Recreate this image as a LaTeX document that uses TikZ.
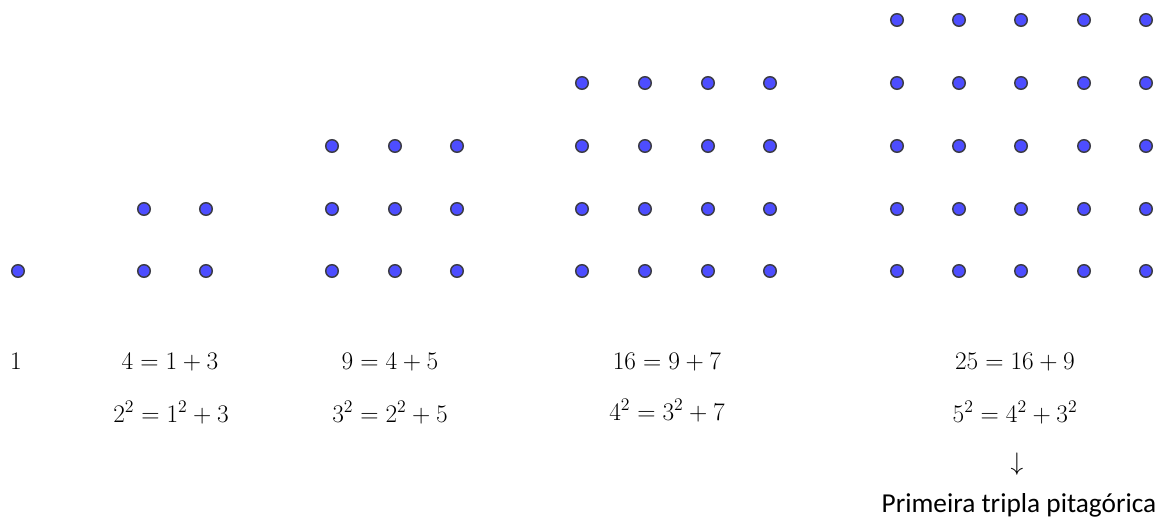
\RequirePackage{fix-cm}
\documentclass[tikz,border=0pt]{standalone}
\usepackage{fontspec}
\newfontfamily\calibri{Carlito}
\definecolor{dotblue}{RGB}{77,77,255}
\definecolor{dotedge}{RGB}{60,60,70}
\tikzset{
  dotnode/.style={circle, fill=dotblue, draw=dotedge, line width=1.1pt, minimum size=9.4pt, inner sep=0pt},
  eqlabel/.style={inner sep=0pt, anchor=base, font=\fontsize{19}{22}\selectfont},
  txtlabel/.style={inner sep=0pt, anchor=base, font=\calibri\fontsize{20.5}{24}\selectfont}
}
\begin{document}
\begin{tikzpicture}[x=0.75pt, y=-0.75pt]
\useasboundingbox (0,0) rectangle (1163,520);
% 1
\node[dotnode] (a-1-1) at (18,271) {};
% 2x2
\foreach \i/\x in {1/144,2/206}
  \foreach \j/\y in {1/209,2/271}
    \node[dotnode] (b-\i-\j) at (\x,\y) {};
% 3x3
\foreach \i/\x in {1/332,2/395,3/457}
  \foreach \j/\y in {1/146,2/209,3/271}
    \node[dotnode] (c-\i-\j) at (\x,\y) {};
% 4x4
\foreach \i/\x in {1/582,2/645,3/708,4/770}
  \foreach \j/\y in {1/83,2/146,3/209,4/271}
    \node[dotnode] (d-\i-\j) at (\x,\y) {};
% 5x5
\foreach \i/\x in {1/897,2/959,3/1021,4/1084,5/1146}
  \foreach \j/\y in {1/20,2/83,3/146,4/209,5/271}
    \node[dotnode] (e-\i-\j) at (\x,\y) {};
% labels
\node[eqlabel] (l1) at (16,369) {$1$};
\node[eqlabel] (l2a) at (170,369) {$4 = 1 + 3$};
\node[eqlabel] (l2b) at (171,422) {$2^2 = 1^2 + 3$};
\node[eqlabel] (l3a) at (390,369) {$9 = 4 + 5$};
\node[eqlabel] (l3b) at (390,422) {$3^2 = 2^2 + 5$};
\node[eqlabel] (l4a) at (667,369) {$16 = 9 + 7$};
\node[eqlabel] (l4b) at (667,420) {$4^2 = 3^2 + 7$};
\node[eqlabel] (l5a) at (1015,369) {$25 = 16 + 9$};
\node[eqlabel] (l5b) at (1015,422) {$5^2 = 4^2 + 3^2$};
\node[eqlabel] (arr) at (1017,470) {$\downarrow$};
\node[txtlabel] (t) at (1019,512) {Primeira tripla pitagórica};
\end{tikzpicture}
\end{document}
